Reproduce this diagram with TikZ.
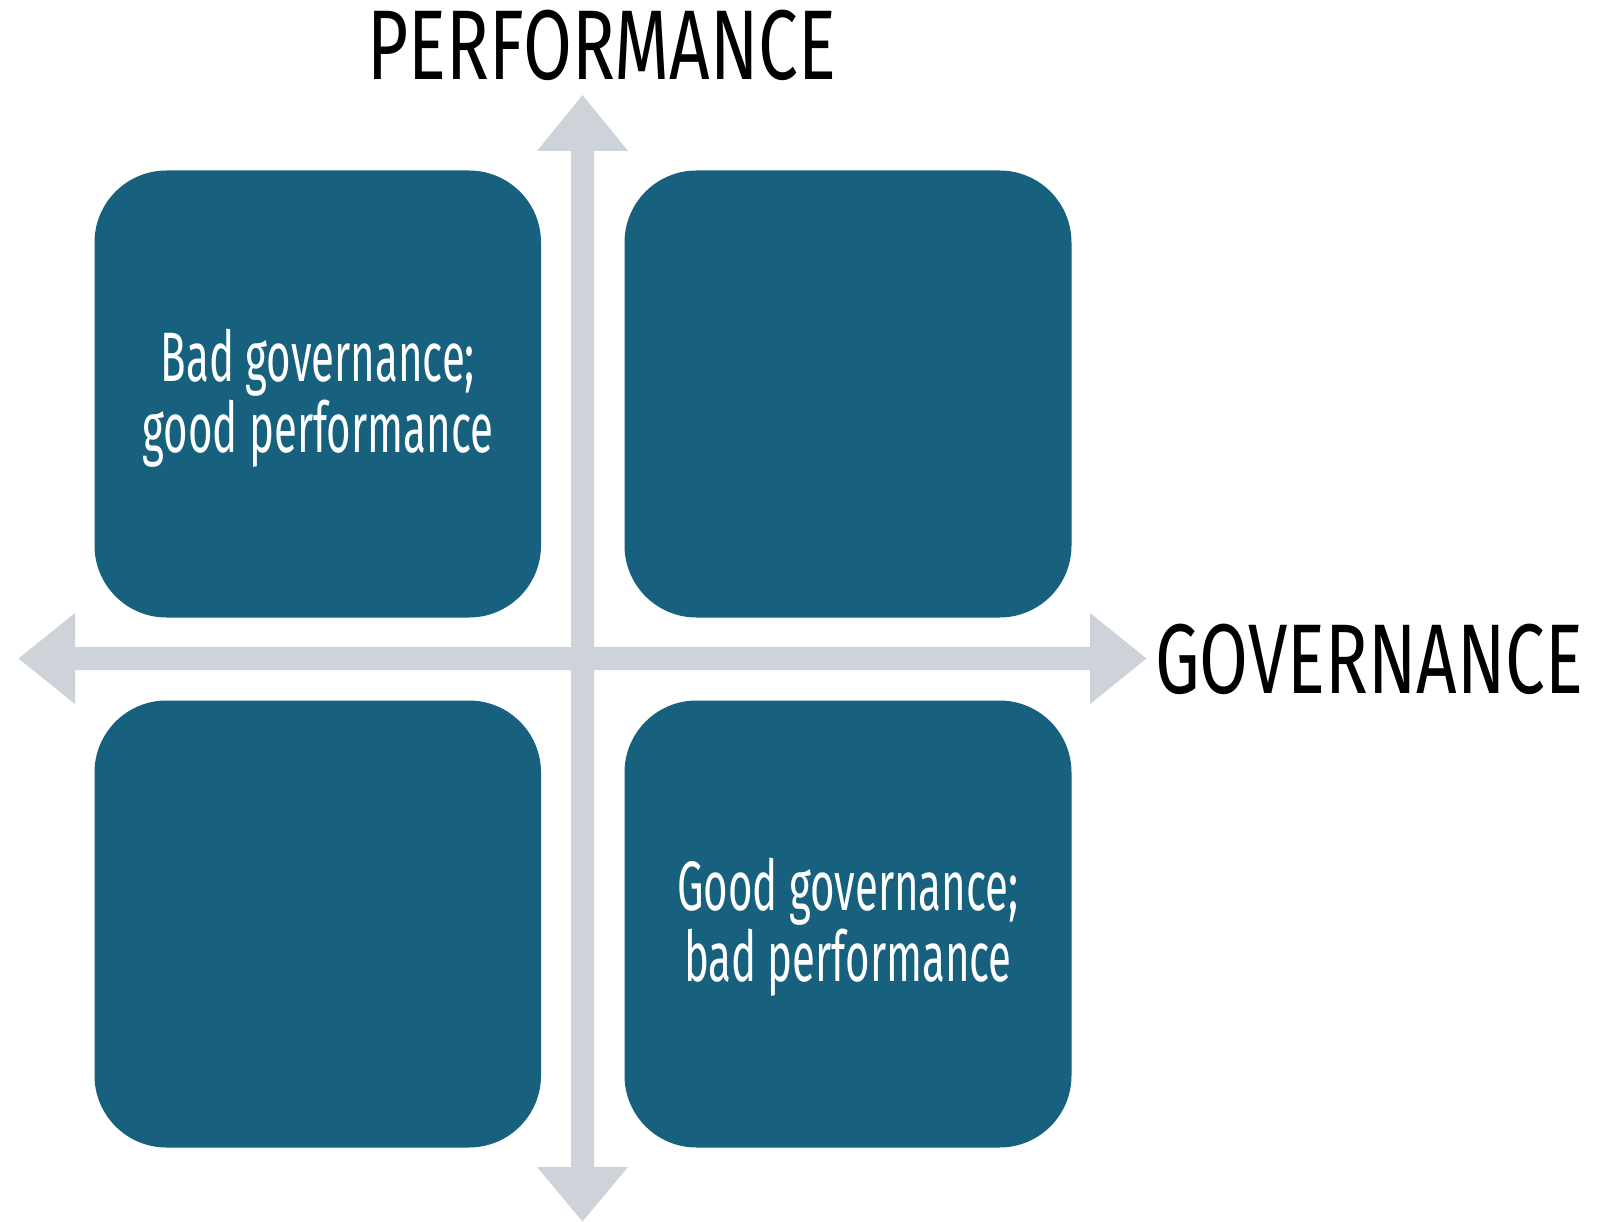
\documentclass[tikz,border=0pt]{standalone}
\usepackage{fontspec}
\newfontfamily\oswald[FakeStretch=0.715]{Fira Sans}
\newfontfamily\oswaldnarrow[FakeStretch=0.6]{Fira Sans}
\definecolor{boxblue}{HTML}{17617F}
\definecolor{axisgray}{HTML}{CED3DA}
\tikzset{
  quadbox/.style={fill=boxblue, rounded corners=72pt},
  axisfill/.style={fill=axisgray},
  boxlabel/.style={text=white, align=center, font=\oswaldnarrow\fontsize{70}{71}\selectfont},
  axislabel/.style={text=black, font=\oswald\fontsize{99}{99}\selectfont, inner sep=0pt}
}
\begin{document}
\begin{tikzpicture}[x=1pt,y=-1pt]
  \useasboundingbox (0,0) rectangle (1611,1222);

  % quadrants
  \path[quadbox] (94.5,170.5) rectangle (541,617.5);
  \path[quadbox] (624.5,170.5) rectangle (1071.5,617.5);
  \path[quadbox] (94.5,700.5) rectangle (541,1147.5);
  \path[quadbox] (624.5,700.5) rectangle (1071.5,1147.5);

  % axes
  \path[axisfill] (582.5,95) -- (628,151) -- (594,151) -- (594,1167) -- (628,1167)
    -- (582.5,1221.5) -- (537,1167) -- (571,1167) -- (571,151) -- (537,151) -- cycle;
  \path[axisfill] (18.5,658.5) -- (75,613) -- (75,647) -- (1090,647) -- (1090,613)
    -- (1146.5,658.5) -- (1090,704) -- (1090,670) -- (75,670) -- (75,704) -- cycle;

  % labels
  \node[boxlabel] (BadGood) at (318,398) {Bad governance;\\good performance};
  \node[boxlabel] (GoodBad) at (848,927) {Good governance;\\bad performance};
  \node[axislabel, anchor=base] (Perf) at (602,80) {PERFORMANCE};
  \node[axislabel, anchor=base west] (Gov) at (1155,693.5) {GOVERNANCE};
\end{tikzpicture}
\end{document}
